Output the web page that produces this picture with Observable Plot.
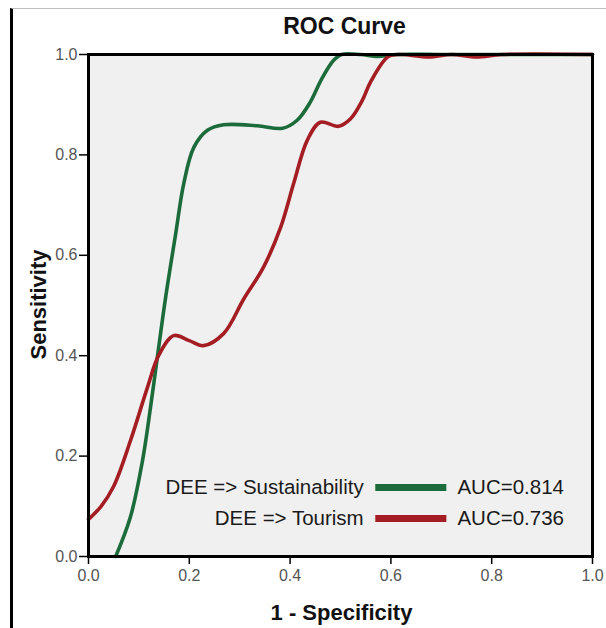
<!DOCTYPE html>
<html>
<head>
<meta charset="utf-8">
<script src="https://cdn.jsdelivr.net/npm/d3@7"></script>
<script src="https://cdn.jsdelivr.net/npm/@observablehq/plot@0.6"></script>
<style>
  html, body { margin: 0; padding: 0; background: #fff; }
  #wrap { position: relative; width: 606px; height: 628px; overflow: hidden; }
  #deco { position: absolute; left: 10px; top: 8px; width: 600px; height: 630px;
          border-left: 3px solid #000; border-top: 1px solid #bdbdbd; pointer-events: none; }
  #chart { position: absolute; left: 0; top: 0; }
</style>
</head>
<body>
<div id="wrap"><div id="deco"></div><div id="chart"></div></div>
<script>
// Series: DEE => Sustainability (green)
const sustX = [0.054,0.083,0.107,0.123,0.137,0.153,0.173,0.189,0.209,0.236,0.268,0.335,0.385,0.414,0.440,0.462,0.486,0.502,0.540,0.573,0.610,0.700,0.800,1.000];
const sustY = [0.000,0.078,0.190,0.297,0.400,0.516,0.643,0.743,0.815,0.849,0.860,0.858,0.853,0.869,0.905,0.950,0.988,1.000,1.000,0.996,1.000,1.000,1.000,1.000];
// Series: DEE => Tourism (red)
const tourX = [0.000,0.025,0.050,0.083,0.117,0.139,0.169,0.200,0.228,0.268,0.308,0.347,0.381,0.407,0.434,0.460,0.496,0.520,0.543,0.560,0.595,0.620,0.675,0.720,0.770,0.820,1.000];
const tourY = [0.074,0.100,0.140,0.230,0.337,0.400,0.440,0.430,0.420,0.444,0.513,0.576,0.655,0.743,0.829,0.865,0.857,0.872,0.908,0.946,0.996,1.000,0.995,1.000,0.995,1.000,1.000];

const seriesNames = ["DEE => Sustainability", "DEE => Tourism"];
const seriesColors = ["#1c6b3b", "#a41d22"];
const aucLabels = ["AUC=0.814", "AUC=0.736"];
const tickValues = [0, 0.2, 0.4, 0.6, 0.8, 1.0];

const rows = [
  ...sustX.map((x, i) => ({x, y: sustY[i], s: seriesNames[0]})),
  ...tourX.map((x, i) => ({x, y: tourY[i], s: seriesNames[1]}))
];
const legend = seriesNames.map((name, i) => ({name, color: seriesColors[i], auc: aucLabels[i], row: i}));
// legend layout (data coordinates)
const legY = r => r === 0 ? 0.1375 : 0.0757;

const chart = Plot.plot({
  width: 606, height: 628,
  marginTop: 54, marginRight: 14, marginBottom: 72, marginLeft: 88,
  style: {fontFamily: "'Liberation Sans', Arial, sans-serif", fontSize: "15px", background: "transparent", overflow: "visible"},
  x: {domain: [0, 1]},
  y: {domain: [0, 1]},
  color: {domain: seriesNames, range: seriesColors},
  marks: [
    Plot.frame({fill: "#f0f0f0", stroke: null}),
    Plot.line(rows, {x: "x", y: "y", z: "s", stroke: "s", strokeWidth: 3.6, curve: "catmull-rom"}),
    // legend
    Plot.text(legend, {x: 0.546, y: d => legY(d.row), text: "name", textAnchor: "end", fontSize: 20.5, fill: "#1a1a1a"}),
    Plot.link(legend, {x1: 0.569, x2: 0.710, y1: d => legY(d.row), y2: d => legY(d.row), stroke: "color", strokeWidth: 7}),
    Plot.text(legend, {x: 0.732, y: d => legY(d.row), text: "auc", textAnchor: "start", fontSize: 20.5, fill: "#1a1a1a"}),
    Plot.frame({stroke: "#000", strokeWidth: 3}),
    Plot.axisX({ticks: tickValues, tickFormat: d3.format(".1f"), tickSize: 8, tickPadding: 5, label: null, stroke: "#000", strokeWidth: 1.5, fill: "#555", fontSize: 16}),
    Plot.axisY({ticks: tickValues, tickFormat: d3.format(".1f"), tickSize: 9, tickPadding: 2, label: null, stroke: "#000", strokeWidth: 1.5, fill: "#555", fontSize: 16}),
    // title and axis labels
    Plot.text(["ROC Curve"], {frameAnchor: "top", lineAnchor: "middle", dy: -28, dx: 4, fontSize: 23, fontWeight: "bold", fill: "#111"}),
    Plot.text(["1 - Specificity"], {frameAnchor: "bottom", lineAnchor: "middle", dy: 56, dx: 1, fontSize: 22, fontWeight: "bold", fill: "#111"}),
    Plot.text(["Sensitivity"], {frameAnchor: "left", textAnchor: "middle", lineAnchor: "middle", dx: -50, dy: -1, rotate: -90, fontSize: 22, fontWeight: "bold", fill: "#111"})
  ]
});
document.getElementById("chart").appendChild(chart);
</script>
</body>
</html>
